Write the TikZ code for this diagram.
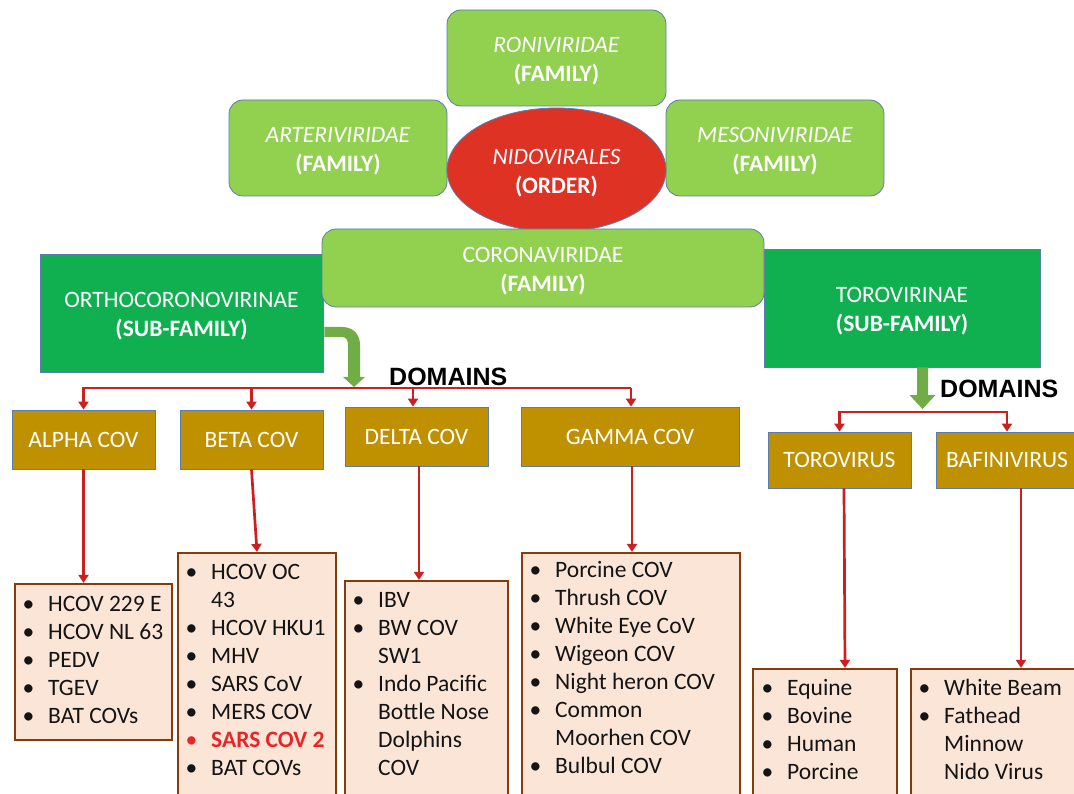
\documentclass[tikz,border=0pt]{standalone}
\usepackage{fontspec}
\setmainfont{Carlito}
\newfontfamily\arialfont{Liberation Sans}
\usetikzlibrary{arrows.meta,shapes.geometric,calc}

\definecolor{lgreen}{HTML}{92D050}
\definecolor{dgreen}{HTML}{10B050}
\definecolor{ellred}{HTML}{DD3224}
\definecolor{gold}{HTML}{BF9000}
\definecolor{peach}{HTML}{FBE5D6}
\definecolor{brownedge}{HTML}{843C0C}
\definecolor{edge}{HTML}{5A7DB0}
\definecolor{arrowred}{HTML}{CC1F1F}
\definecolor{garrow}{HTML}{70AD47}
\definecolor{sars}{HTML}{E8262A}
\definecolor{ink}{HTML}{141414}

\newcommand\bu{\makebox[25.5pt][l]{\textbullet}}
\newcommand\nb{\hspace*{25.5pt}}
\newcommand\tp{\rule{0pt}{21pt}}
\newcommand\itemlist[4]{%
  \foreach \t [count=\i] in {#4}
    \node[itemtext] (#1-\i) at (#2,{#3+28*(\i-1)}) {\t};}

\tikzset{
  every node/.style={font=\fontsize{23.5}{28.5}\selectfont},
  twoline/.style={font=\fontsize{23.5}{29}\selectfont},
  famBox/.style={twoline, draw=edge, line width=0.8pt, fill=lgreen, rounded corners=14pt,
    text=white, align=center, inner sep=0pt},
  subBox/.style={twoline, draw=edge, line width=0.8pt, fill=dgreen, text=white,
    align=center, inner sep=0pt},
  domBox/.style={draw=edge, line width=0.8pt, fill=gold, text=white,
    inner sep=0pt, minimum height=59pt},
  listBox/.style={draw=brownedge, line width=2.2pt, fill=peach, inner sep=0pt},
  itemtext/.style={anchor=base west, inner sep=0pt, text=ink},
  domlabel/.style={anchor=base west, inner sep=0pt,
    font=\arialfont\bfseries\fontsize{25}{30}\selectfont, text=black},
  redline/.style={draw=arrowred, line width=2.7pt, line cap=rect},
  redarrow/.style={draw=arrowred, line width=2.7pt, -{Triangle[width=10pt,length=8pt]}},
  garrowshape/.style={fill=garrow, draw=none}
}

\begin{document}
\begin{tikzpicture}[x=1pt,y=-1pt]
\useasboundingbox (0,0) rectangle (1074,794);
\clip (0,0) rectangle (1074,794);
\fill[white] (0,0) rectangle (1074,794);

% family boxes around the order
\node[famBox, minimum width=219pt, minimum height=96pt] (roni) at (556.5,58)
  {\tp\textit{RONIVIRIDAE}\\\textbf{(FAMILY)}};
\node[famBox, minimum width=218pt, minimum height=96pt] (arteri) at (338,148)
  {\tp\textit{ARTERIVIRIDAE}\\\textbf{(FAMILY)}};
\node[famBox, minimum width=218pt, minimum height=96pt] (meso) at (775,148)
  {\tp\textit{MESONIVIRIDAE}\\\textbf{(FAMILY)}};
\node[ellipse, twoline, draw=edge, line width=0.8pt, fill=ellred, minimum width=219pt,
  minimum height=124pt, inner sep=0pt, text=white, align=center] (nido) at (556.5,170)
  {\tp\textit{NIDOVIRALES}\\\textbf{(ORDER)}};

% sub-families and coronaviridae
\node[subBox, minimum width=283pt, minimum height=118pt] (ortho) at (181.5,313)
  {\tp ORTHOCORONOVIRINAE\\\textbf{(SUB-FAMILY)}};
\node[subBox, minimum width=276pt, minimum height=118pt] (toro) at (902,308)
  {\tp TOROVIRINAE\\\textbf{(SUB-FAMILY)}};
\node[famBox, minimum width=442pt, minimum height=78pt] (corona) at (543,268)
  {\tp CORONAVIRIDAE\\\textbf{(FAMILY)}};

% green arrows
\coordinate (gs) at (ortho.east |- 0,332);
\coordinate (gt) at (354,387);
\fill[garrowshape] ($(gs)+(1,-5)$) -- (342,327)
  .. controls (353,327) and (360,334) .. (360,345) -- (360,377) -- (365,377)
  -- (gt) -- (343,377) -- (348,377) -- (348,345)
  .. controls (348,340) and (346,337) .. (342,337) -- ($(gs)+(1,5)$) -- cycle;
\coordinate (ts) at (toro.south -| 922.5,0);
\coordinate (tt) at (922.5,409);
\fill[garrowshape] ($(ts)+(-5.5,0)$) -- ($(ts)+(5.5,0)$) -- (928,395) -- (935.5,395)
  -- (tt) -- (909.5,395) -- (917,395) -- cycle;

\node[domlabel] (dom1) at (389,385) {DOMAINS};
\node[domlabel] (dom2) at (940,397) {DOMAINS};

% domain boxes
\node[domBox, minimum width=143pt] (alpha) at (83.5,439.5) {ALPHA COV};
\node[domBox, minimum width=143pt] (beta) at (251.5,439.5) {BETA COV};
\node[domBox, minimum width=143pt] (delta) at (416.5,436.5) {DELTA COV};
\node[domBox, minimum width=218pt] (gamma) at (630,436.5) {GAMMA COV};
\node[domBox, minimum width=143pt, minimum height=56pt] (torov) at (839.5,460) {TOROVIRUS};
\node[domBox, minimum width=142pt, minimum height=56pt] (bafini) at (1007,460) {BAFINIVIRUS};

% list boxes
\node[listBox, minimum width=157pt, minimum height=156pt] (alist) at (93.5,662) {};
\node[listBox, minimum width=158pt, minimum height=250pt] (blist) at (257,678) {};
\node[listBox, minimum width=163pt, minimum height=222pt] (dlist) at (426.5,692) {};
\node[listBox, minimum width=218pt, minimum height=250pt] (glist) at (631,678) {};
\node[listBox, minimum width=144pt, minimum height=134pt] (tlist) at (825,736) {};
\node[listBox, minimum width=169pt, minimum height=134pt] (bflist) at (995.5,736) {};

% list texts
\itemlist{al}{22.5}{611}{{\bu HCOV 229 E},{\bu HCOV NL 63},{\bu PEDV},{\bu TGEV},{\bu BAT COVs}}
\itemlist{bl}{185.5}{579}{{\bu HCOV OC},{\nb 43},{\bu HCOV HKU1},{\bu MHV},{\bu SARS CoV},{\bu MERS COV},{\color{sars}\bu\textbf{SARS COV 2}},{\bu BAT COVs}}
\itemlist{dl}{352.5}{607}{{\bu IBV},{\bu BW COV},{\nb SW1},{\bu Indo Pacific},{\nb Bottle Nose},{\nb Dolphins},{\nb COV}}
\itemlist{gl}{529.5}{577}{{\bu Porcine COV},{\bu Thrush COV},{\bu White Eye CoV},{\bu Wigeon COV},{\bu Night heron COV},{\bu Common},{\nb Moorhen COV},{\bu Bulbul COV}}
\itemlist{tl}{761.5}{695}{{\bu Equine},{\bu Bovine},{\bu Human},{\bu Porcine}}
\itemlist{fl}{918.5}{695}{{\bu White Beam},{\bu Fathead},{\nb Minnow},{\nb Nido Virus}}

% red connectors, left tree
\coordinate (lb) at (354,388);
\draw[redline] (alpha.north |- lb) -- (gamma.north |- lb);
\draw[redarrow] (alpha.north |- lb) -- (alpha.north);
\draw[redarrow] (beta.north |- lb) -- (beta.north);
\draw[redarrow] ([xshift=-3.5pt]delta.north |- lb) -- ([xshift=-3.5pt]delta.north);
\draw[redarrow] ([xshift=1pt]gamma.north |- lb) -- ([xshift=1pt]gamma.north);

% red connectors, right tree
\coordinate (rb) at (922.5,412);
\draw[redline] (torov.north |- rb) -- (bafini.north |- rb);
\draw[redarrow] (torov.north |- rb) -- (torov.north);
\draw[redarrow] (bafini.north |- rb) -- (bafini.north);

% red connectors down to lists
\draw[redarrow] (alpha.south) -- (alpha.south |- alist.north);
\draw[redarrow] (beta.south) -- (blist.north);
\draw[redarrow] ([xshift=2.5pt]delta.south) -- ([xshift=2.5pt]delta.south |- dlist.north);
\draw[redarrow] ([xshift=2pt]gamma.south) -- ([xshift=2pt]gamma.south |- glist.north);
\draw[redarrow] ([xshift=4.5pt]torov.south) -- ([xshift=5.5pt]torov.south |- tlist.north);
\draw[redarrow] ([xshift=14pt]bafini.south) -- ([xshift=14pt]bafini.south |- bflist.north);
\end{tikzpicture}
\end{document}
